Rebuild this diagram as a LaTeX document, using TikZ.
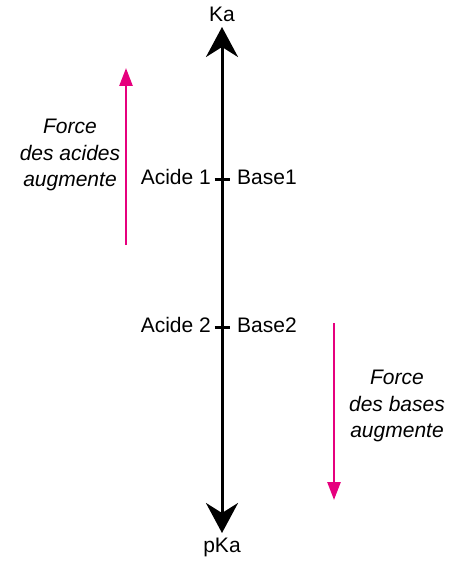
\documentclass[tikz,border=0pt]{standalone}
\usepackage{fontspec}
\setmainfont{Liberation Sans}
\usetikzlibrary{arrows.meta}
\definecolor{pinkarrow}{RGB}{230,0,126}
\tikzset{
  axis/.style={line width=3pt, {Stealth[length=30pt,width=32pt,inset=10pt]}-{Stealth[length=30pt,width=32pt,inset=10pt]}},
  trend/.style={pinkarrow, line width=2.6pt, -{Triangle[length=18pt,width=13pt]}},
  lbl/.style={font=\fontsize{21}{25}\selectfont, inner sep=0pt},
  note/.style={font=\fontsize{21}{26.5}\selectfont\itshape, align=center, inner sep=0pt},
  tick/.style={line width=3pt}
}
\begin{document}
\begin{tikzpicture}[x=1pt,y=-1pt]
\useasboundingbox (0,0) rectangle (454,564);
% pKa axis
\coordinate (top) at (222,27);
\coordinate (bot) at (222,533);
\draw[axis] (bot) -- (top);
\node[lbl] (ka) at (222,14) {Ka};
\node[lbl] (pka) at (222,547) {pKa};
% couples on the axis
\coordinate (c1) at (222,179);
\coordinate (c2) at (222,327);
\draw[tick] ([xshift=-7.5pt]c1) -- ([xshift=7.5pt]c1);
\draw[tick] ([xshift=-7.5pt]c2) -- ([xshift=7.5pt]c2);
\node[lbl, anchor=east] (a1) at (211,177) {Acide 1};
\node[lbl, anchor=west] (b1) at (237,177) {Base1};
\node[lbl, anchor=east] (a2) at (211,325) {Acide 2};
\node[lbl, anchor=west] (b2) at (237,325) {Base2};
% strength trends
\coordinate (l0) at (126,245);
\coordinate (l1) at (126,68);
\draw[trend] (l0) -- (l1);
\node[note] (fa) at (70,155) {Force\\des acides\\augmente};
\coordinate (r0) at (334,323);
\coordinate (r1) at (334,500);
\draw[trend] (r0) -- (r1);
\node[note] (fb) at (397,406) {Force\\des bases\\augmente};
\end{tikzpicture}
\end{document}
